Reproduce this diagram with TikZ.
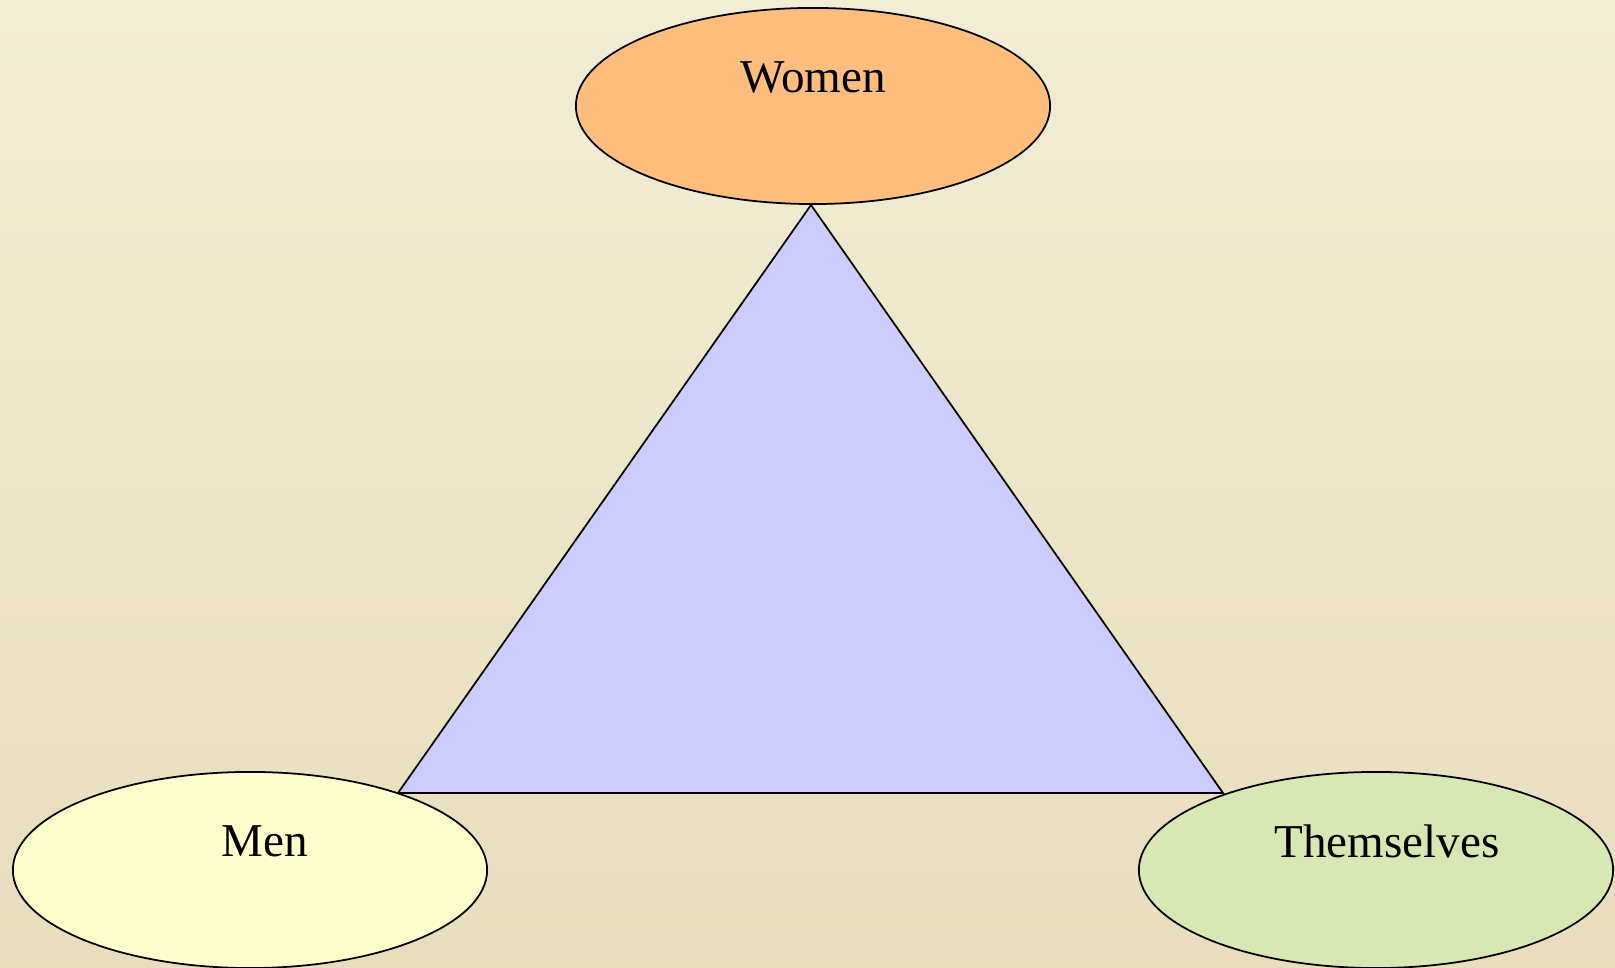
\documentclass[tikz,border=0pt]{standalone}
\usepackage{fontspec}
\setmainfont{Liberation Serif}
\usetikzlibrary{shapes.geometric}

\definecolor{parchment}{RGB}{242,237,213}
\definecolor{parchmentdark}{RGB}{232,222,188}
\definecolor{womenfill}{RGB}{255,190,125}
\definecolor{menfill}{RGB}{255,253,204}
\definecolor{selffill}{RGB}{216,232,178}
\definecolor{trifill}{RGB}{204,204,255}

\tikzset{
  group/.style={ellipse, draw=black, line width=0.5pt, inner sep=0pt,
    minimum width=4.74cm, minimum height=1.96cm},
  grouplabel/.style={font=\fontsize{13.4}{16}\selectfont, yshift=0.29cm}
}

\begin{document}
\begin{tikzpicture}[x=0.01cm, y=-0.01cm]
  \useasboundingbox (0,0) rectangle (1615,968);
  \shade[top color=parchment, bottom color=parchmentdark] (0,0) rectangle (1615,968);

  % triangle between the three groups
  \filldraw[fill=trifill, line width=0.5pt] (811,205) -- (398,793) -- (1223,793) -- cycle;

  % the three groups
  \node[group, fill=womenfill, label={[grouplabel]center:Women}] (women) at (813,106) {};
  \node[group, fill=menfill, label={[grouplabel, xshift=0.15cm]center:Men}] (men) at (250,870) {};
  \node[group, fill=selffill, label={[grouplabel, xshift=0.11cm]center:Themselves}] (themselves) at (1376,870) {};
\end{tikzpicture}
\end{document}
